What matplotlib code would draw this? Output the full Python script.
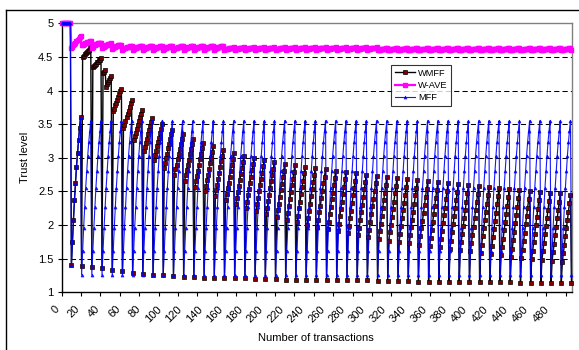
import matplotlib
matplotlib.use('Agg')
import matplotlib.pyplot as plt
from matplotlib.lines import Line2D
from matplotlib.transforms import ScaledTranslation

plt.rcParams['font.family'] = ['Liberation Sans', 'DejaVu Sans']

# ---- data ----
n_points = 500
head = [5.0] * 9                     # first transactions, all series at 5

# MFF: first cycle, then the same cycle repeats (bad transaction every 10)
mff_first = [1.40, 1.75, 2.07, 2.37, 2.62, 2.87, 3.07, 3.27, 3.45, 3.60]
mff_cycle = [1.26, 1.62, 1.96, 2.27, 2.55, 2.80, 3.03, 3.23, 3.40, 3.55]

# WMFF: value right after each bad transaction (50 cycles)
wmff_bottom = [1.40, 1.39, 1.37, 1.36, 1.33, 1.31, 1.29, 1.27, 1.26, 1.25,
               1.24, 1.23, 1.23, 1.22, 1.22, 1.21, 1.21, 1.21, 1.20, 1.20,
               1.20, 1.19, 1.19, 1.19, 1.19, 1.18, 1.18, 1.18, 1.18, 1.18,
               1.17, 1.17, 1.17, 1.17, 1.16, 1.16, 1.16, 1.16, 1.16, 1.15,
               1.15, 1.15, 1.15, 1.15, 1.14, 1.14, 1.14, 1.14, 1.14, 1.14]
# WMFF: recovery after each bad transaction, cycles 1..48 (cycle 0 = MFF)
wmff_ramps = [
    [4.50, 4.52, 4.54, 4.56, 4.57, 4.59, 4.61, 4.63, 4.65],
    [4.35, 4.37, 4.38, 4.40, 4.42, 4.43, 4.45, 4.46, 4.48],
    [4.26, 4.28, 4.30, 4.06, 4.09, 4.12, 4.15, 4.18, 4.21],
    [3.69, 3.73, 3.78, 3.82, 3.86, 3.90, 3.95, 3.99, 4.03],
    [3.44, 3.49, 3.55, 3.60, 3.65, 3.70, 3.76, 3.81, 3.86],
    [3.26, 3.32, 3.37, 3.43, 3.49, 3.54, 3.60, 3.65, 3.71],
    [3.10, 3.16, 3.22, 3.28, 3.35, 3.41, 3.47, 3.53, 3.59],
    [2.97, 3.04, 3.10, 3.17, 3.24, 3.30, 3.37, 3.43, 3.50],
    [2.85, 2.92, 2.99, 3.06, 3.14, 3.21, 3.28, 3.35, 3.42],
    [2.75, 2.83, 2.90, 2.98, 3.05, 3.13, 3.20, 3.28, 3.35],
    [2.66, 2.74, 2.82, 2.89, 2.97, 3.05, 3.13, 3.20, 3.28],
    [2.57, 2.65, 2.73, 2.81, 2.90, 2.98, 3.06, 3.14, 3.22],
    [2.50, 2.58, 2.67, 2.75, 2.84, 2.92, 3.00, 3.09, 3.17],
    [2.43, 2.52, 2.60, 2.69, 2.78, 2.86, 2.95, 3.03, 3.12],
    [2.37, 2.46, 2.55, 2.63, 2.72, 2.81, 2.90, 2.98, 3.07],
    [2.31, 2.40, 2.49, 2.58, 2.67, 2.76, 2.85, 2.94, 3.03],
    [2.26, 2.35, 2.45, 2.54, 2.63, 2.72, 2.82, 2.91, 3.00],
    [2.21, 2.31, 2.40, 2.50, 2.59, 2.69, 2.78, 2.88, 2.97],
    [2.16, 2.26, 2.36, 2.45, 2.55, 2.65, 2.75, 2.84, 2.94],
    [2.12, 2.22, 2.32, 2.42, 2.52, 2.61, 2.71, 2.81, 2.91],
    [2.08, 2.18, 2.28, 2.38, 2.49, 2.59, 2.69, 2.79, 2.89],
    [2.04, 2.14, 2.25, 2.35, 2.46, 2.56, 2.66, 2.77, 2.87],
    [2.00, 2.11, 2.21, 2.32, 2.43, 2.53, 2.64, 2.74, 2.85],
    [1.97, 2.08, 2.19, 2.29, 2.40, 2.51, 2.62, 2.72, 2.83],
    [1.94, 2.05, 2.16, 2.27, 2.38, 2.48, 2.59, 2.70, 2.81],
    [1.91, 2.02, 2.13, 2.24, 2.35, 2.46, 2.57, 2.68, 2.79],
    [1.88, 1.99, 2.10, 2.21, 2.33, 2.44, 2.55, 2.66, 2.77],
    [1.85, 1.96, 2.08, 2.19, 2.30, 2.41, 2.53, 2.64, 2.75],
    [1.82, 1.93, 2.05, 2.16, 2.28, 2.39, 2.50, 2.62, 2.73],
    [1.79, 1.91, 2.02, 2.14, 2.25, 2.37, 2.48, 2.60, 2.71],
    [1.77, 1.89, 2.00, 2.12, 2.24, 2.35, 2.47, 2.58, 2.70],
    [1.75, 1.87, 1.98, 2.10, 2.22, 2.33, 2.45, 2.56, 2.68],
    [1.73, 1.85, 1.97, 2.08, 2.20, 2.32, 2.44, 2.55, 2.67],
    [1.71, 1.83, 1.95, 2.06, 2.18, 2.30, 2.42, 2.53, 2.65],
    [1.69, 1.81, 1.93, 2.05, 2.17, 2.28, 2.40, 2.52, 2.64],
    [1.67, 1.79, 1.91, 2.03, 2.15, 2.26, 2.38, 2.50, 2.62],
    [1.65, 1.77, 1.89, 2.01, 2.13, 2.25, 2.37, 2.49, 2.61],
    [1.63, 1.75, 1.87, 1.99, 2.11, 2.23, 2.35, 2.47, 2.59],
    [1.61, 1.73, 1.85, 1.97, 2.10, 2.22, 2.34, 2.46, 2.58],
    [1.59, 1.71, 1.83, 1.95, 2.08, 2.20, 2.32, 2.44, 2.56],
    [1.57, 1.69, 1.82, 1.94, 2.06, 2.18, 2.31, 2.43, 2.55],
    [1.55, 1.67, 1.80, 1.92, 2.04, 2.16, 2.29, 2.41, 2.53],
    [1.53, 1.65, 1.78, 1.90, 2.03, 2.15, 2.27, 2.40, 2.52],
    [1.51, 1.63, 1.76, 1.88, 2.01, 2.13, 2.25, 2.38, 2.50],
    [1.50, 1.62, 1.75, 1.87, 2.00, 2.12, 2.24, 2.37, 2.49],
    [1.48, 1.61, 1.73, 1.86, 1.98, 2.11, 2.23, 2.36, 2.48],
    [1.47, 1.60, 1.72, 1.85, 1.97, 2.10, 2.22, 2.35, 2.47],
    [1.45, 1.58, 1.70, 1.83, 1.95, 2.08, 2.20, 2.33, 2.45],
]

# W-AVE: first cycles, then steadier saw-tooth cycles
wave_early = [
    [4.63, 4.65, 4.67, 4.69, 4.71, 4.73, 4.75, 4.77, 4.79, 4.81],
    [4.67, 4.68, 4.69, 4.70, 4.71, 4.715, 4.72, 4.725, 4.73, 4.735],
    [4.64, 4.655, 4.67, 4.68, 4.69, 4.695, 4.70, 4.705, 4.71, 4.71],
    [4.63, 4.645, 4.655, 4.665, 4.675, 4.68, 4.685, 4.69, 4.695, 4.70],
    [4.62, 4.635, 4.645, 4.655, 4.66, 4.665, 4.67, 4.675, 4.68, 4.68],
]
wave_mid = [4.61, 4.625, 4.635, 4.64, 4.645, 4.65, 4.655, 4.66, 4.66, 4.665]
wave_late = [4.605, 4.615, 4.62, 4.625, 4.63, 4.635, 4.635, 4.64, 4.64, 4.645]
wave_end = [4.60, 4.605, 4.61, 4.615, 4.62, 4.62, 4.625, 4.625, 4.63, 4.63]

x_labels = list(range(0, 500, 20))
y_ticks = [1, 1.5, 2, 2.5, 3, 3.5, 4, 4.5, 5]

# ---- assemble series ----
mff = head + mff_first + mff_cycle * 48 + mff_cycle[:1]

wmff = head + [wmff_bottom[0]] + mff_first[1:]
for c, ramp in enumerate(wmff_ramps, start=1):
    wmff += [wmff_bottom[c]] + ramp
wmff += [wmff_bottom[49]]

wave = head[:]
for cyc in wave_early:
    wave += cyc
wave += wave_mid * 10 + wave_late * 15 + wave_end * 19 + wave_end[:1]

x = [i + 0.5 for i in range(n_points)]

# ---- figure ----
fig = plt.figure(figsize=(5.79, 3.5), dpi=100)
ax = fig.add_axes([61.7 / 579, 1 - 292.3 / 350, 510.3 / 579, 269 / 350])

for y in y_ticks[1:-1]:
    ax.axhline(y, color='black', lw=0.75, ls=(0, (5, 3)), zorder=1)

ax.plot(x, wmff, color='black', lw=1.0, marker='s', ms=2.4,
        mfc='#800000', mec='black', mew=0.5, zorder=3, clip_on=False, label='WMFF')
ax.plot(x, wave, color='#FF00FF', lw=1.6, marker='s', ms=2.6,
        mfc='#FF00FF', mec='#FF00FF', zorder=4, clip_on=False, label='W-AVE')
ax.plot(x, mff, color='#0000FF', lw=0.8, marker='^', ms=2.2,
        mfc='#0000FF', mec='#0000FF', mew=0.4, alpha=0.9, zorder=5,
        clip_on=False, label='MFF')

ax.set_xlim(0, n_points)
ax.set_ylim(1, 5)

for s in ['left', 'bottom']:
    ax.spines[s].set_color('black')
    ax.spines[s].set_linewidth(1.0)
for s in ['top', 'right']:
    ax.spines[s].set_color('#808080')
    ax.spines[s].set_linewidth(1.0)

ax.set_yticks(y_ticks)
ax.set_yticklabels(['1', '1.5', '2', '2.5', '3', '3.5', '4', '4.5', '5'])
ax.tick_params(axis='y', direction='out', length=3, width=0.8, pad=3, labelsize=8)

ax.set_xticks([v + 0.5 for v in x_labels])
ax.set_xticklabels([str(v) for v in x_labels], rotation=45, ha='right',
                   va='center', rotation_mode='anchor')
ax.set_xticks(list(range(0, n_points, 19)), minor=True)
ax.tick_params(axis='x', which='major', length=0, pad=11, labelsize=8)
ax.tick_params(axis='x', which='minor', direction='out', length=2.6, width=0.8)
shift = ScaledTranslation(-4.5 / 100, 0, fig.dpi_scale_trans)
for lab in ax.get_xticklabels():
    lab.set_transform(lab.get_transform() + shift)

fig.text(25 / 579, 1 - 157 / 350, 'Trust level', rotation=90,
         ha='center', va='center', fontsize=8)
fig.text(316 / 579, 1 - 338 / 350, 'Number of transactions',
         ha='center', va='center', fontsize=8)

leg = ax.legend(loc='upper left', bbox_to_anchor=(391 / 579, 1 - 65 / 350),
                bbox_transform=fig.transFigure, fontsize=6.7, frameon=True,
                fancybox=False, borderaxespad=0, handlelength=2.2,
                labelspacing=0.35, borderpad=0.4, handletextpad=0.3)
leg.get_frame().set_edgecolor('black')
leg.get_frame().set_linewidth(0.8)
leg.set_zorder(10)

# outer chart frame (top and left edges visible)
fig.add_artist(Line2D([6 / 579, 1], [1 - 10 / 350, 1 - 10 / 350],
                      transform=fig.transFigure, color='black', lw=1.0))
fig.add_artist(Line2D([6 / 579, 6 / 579], [0, 1 - 10 / 350],
                      transform=fig.transFigure, color='black', lw=1.0))

fig.savefig('out.png', dpi=100)
